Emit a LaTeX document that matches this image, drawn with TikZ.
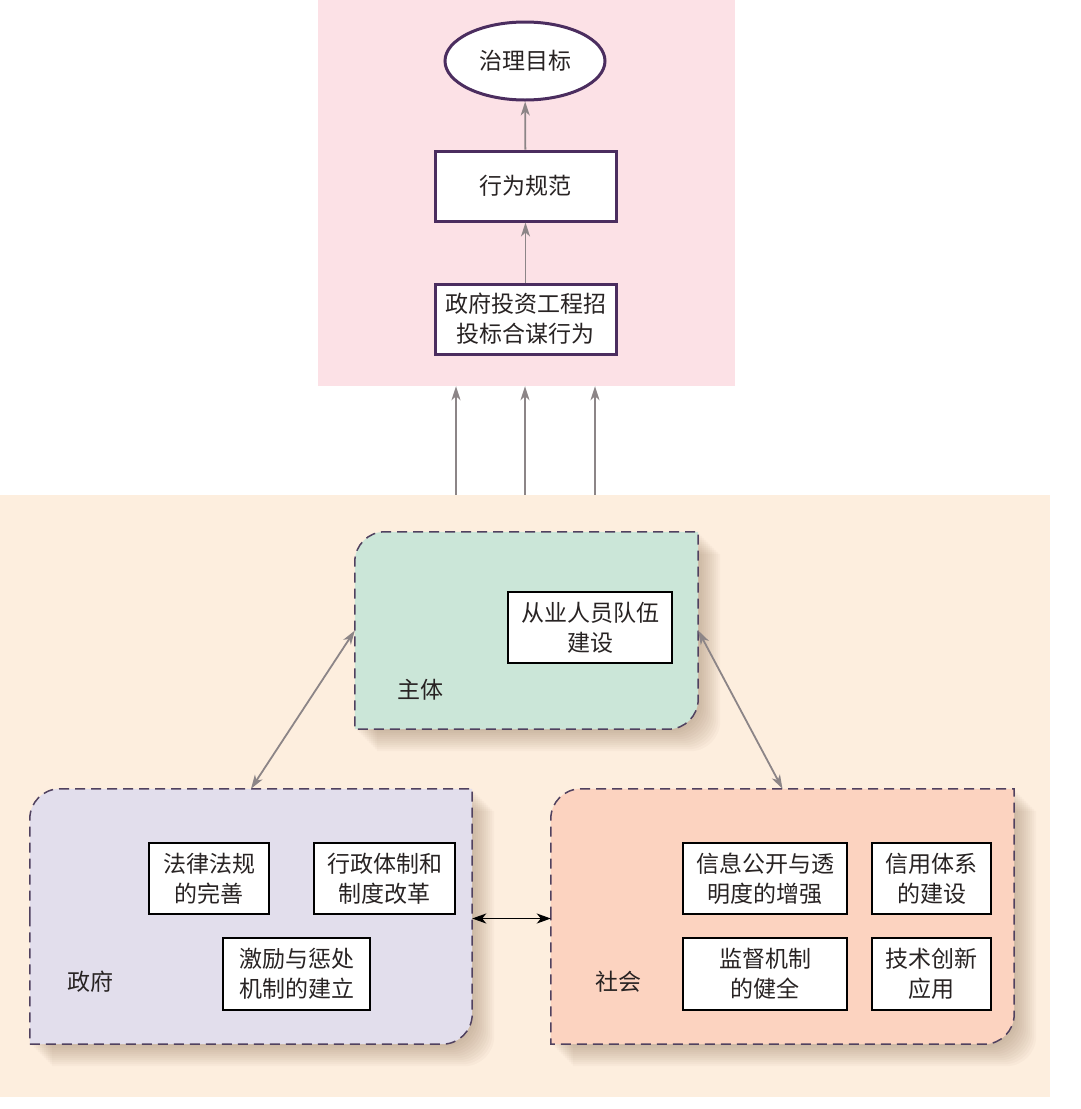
\documentclass[tikz,border=0pt]{standalone}
\usepackage{fontspec}
\newfontfamily\cjk{Noto Sans CJK SC}
\usetikzlibrary{arrows.meta,shapes.geometric}
\definecolor{pinkbg}{RGB}{252,225,230}
\definecolor{peachbg}{RGB}{253,238,222}
\definecolor{tealfill}{RGB}{203,230,216}
\definecolor{lavfill}{RGB}{226,222,236}
\definecolor{salfill}{RGB}{252,211,192}
\definecolor{dpurple}{RGB}{75,45,95}
\definecolor{gborder}{RGB}{80,65,95}
\definecolor{garr}{RGB}{140,133,135}
\definecolor{txt}{RGB}{40,35,35}
\definecolor{shadowc}{RGB}{120,90,60}
\tikzset{
  every node/.style={font=\cjk\fontsize{23}{30}\selectfont, text=txt, align=center, inner sep=0pt},
  topbox/.style={draw=dpurple, line width=3pt, fill=white, minimum width=181, minimum height=70},
  goalshape/.style={ellipse, draw=dpurple, line width=3pt, fill=white, minimum width=160, minimum height=78},
  itembox/.style={draw=black, line width=2.8pt, fill=white},
  grp/.style={draw=gborder, line width=1.5pt, dash pattern=on 10pt off 6pt},
  shadowlayer/.style={fill=shadowc, opacity=0.035},
  garrow/.style={draw=garr, line width=1.8pt, -{Stealth[length=14pt,width=9pt,inset=4pt]}},
  gdarrow/.style={draw=garr, line width=1.8pt, {Stealth[length=14pt,width=9pt,inset=4pt]}-{Stealth[length=14pt,width=9pt,inset=4pt]}},
  barrow/.style={draw=black, line width=1.8pt, {Stealth[length=14pt,width=10pt,inset=4pt]}-{Stealth[length=14pt,width=10pt,inset=4pt]}},
}
\newcommand{\grppath}[2]{([shift={(#2,#2)}]#1.west) [rounded corners=30pt] -- ([shift={(#2,#2)}]#1.north west) [sharp corners] -- ([shift={(#2,#2)}]#1.north east) [rounded corners=30pt] -- ([shift={(#2,#2)}]#1.south east) [sharp corners] -- ([shift={(#2,#2)}]#1.south west) -- cycle}
\newcommand{\grpshape}[2]{%
  \foreach \s in {2,4,...,22}{\fill[shadowlayer] \grppath{#1}{\s};}
  \path[grp, fill=#2] \grppath{#1}{0};}
\begin{document}
\begin{tikzpicture}[x=1pt,y=-1pt]
\useasboundingbox (0,0) rectangle (1080,1109);
\fill[white] (0,0) rectangle (1080,1109);
% zones
\node[fill=pinkbg, minimum width=417, minimum height=386] (topzone) at (526.5,193) {};
\node[fill=peachbg, minimum width=1050, minimum height=602] (botzone) at (525,796) {};
% top chain
\node[goalshape] (goal) at (525,61) {治理目标};
\node[topbox] (behav) at (525.5,186) {行为规范};
\node[topbox] (coll) at (525.5,319) {政府投资工程招\\投标合谋行为};
\draw[garrow] (coll) -- (behav);
\draw[garrow] (behav) -- (goal);
% three arrows
\draw[garrow] ([xshift=-69pt]botzone.north) coordinate (a1) -- (a1 |- topzone.south);
\draw[garrow] ([xshift=0pt]botzone.north) coordinate (a2) -- (a2 |- topzone.south);
\draw[garrow] ([xshift=70pt]botzone.north) coordinate (a3) -- (a3 |- topzone.south);
% groups
\node[minimum width=343, minimum height=197] (zt) at (526.5,630.5) {};
\node[minimum width=442, minimum height=255] (zf) at (251,916.5) {};
\node[minimum width=463, minimum height=255] (sh) at (782.5,916.5) {};
\grpshape{zt}{tealfill}
\grpshape{zf}{lavfill}
\grpshape{sh}{salfill}
% group labels
\node (lzt) at (420,690) {主体};
\node (lzf) at (90,982) {政府};
\node (lsh) at (618,982) {社会};
% items
\node[itembox, minimum width=164, minimum height=71] (b1) at (590,627.5) {从业人员队伍\\建设};
\node[itembox, minimum width=120, minimum height=71] (f1) at (209,878.5) {法律法规\\的完善};
\node[itembox, minimum width=141, minimum height=71] (f2) at (384.5,878.5) {行政体制和\\制度改革};
\node[itembox, minimum width=147, minimum height=72] (f3) at (296.5,974) {激励与惩处\\机制的建立};
\node[itembox, minimum width=164, minimum height=71] (s1) at (765,878.5) {信息公开与透\\明度的增强};
\node[itembox, minimum width=119, minimum height=71] (s2) at (931.5,878.5) {信用体系\\的建设};
\node[itembox, minimum width=164, minimum height=72] (s3) at (765,974) {监督机制\\的健全};
\node[itembox, minimum width=119, minimum height=72] (s4) at (931.5,974) {技术创新\\应用};
% connectors
\draw[gdarrow] (zt.west) -- (zf.north);
\draw[gdarrow] (zt.east) -- (sh.north);
\draw[barrow] ([yshift=-2pt]zf.east) -- ([yshift=-2pt]sh.west);
\end{tikzpicture}
\end{document}
